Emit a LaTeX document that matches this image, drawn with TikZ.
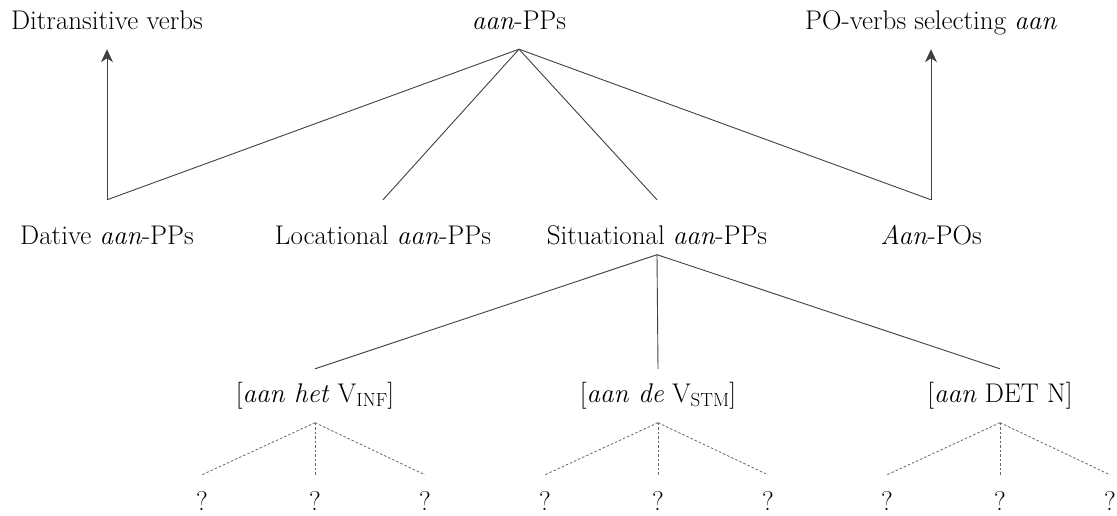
\documentclass[tikz,border=0pt]{standalone}
\usepackage{fontspec}
\usetikzlibrary{arrows.meta}

\newcommand{\subcap}[1]{\raisebox{-4.5pt}{\fontsize{19}{20}\selectfont #1}}

\begin{document}
\begin{tikzpicture}[
    x=1pt, y=-1pt,
    every node/.style={anchor=base, inner xsep=0pt, text height=18pt, text depth=5.5pt, font=\fontsize{27}{32}\selectfont},
    head/.style={inner ysep=13.5pt},
    cat/.style={inner ysep=26pt},
    cxn/.style={inner ysep=15pt},
    qm/.style={inner ysep=17pt},
    branch/.style={draw=black!75, line width=0.9pt},
    guess/.style={draw=black!60, line width=0.8pt, dash pattern=on 2.5pt off 2pt},
    >={Stealth[length=13pt, width=12pt, inset=4pt]}
]
\useasboundingbox (0,0) rectangle (1117,516);

% bovenste rij
\node[head] (ditr) at (107,30) {Ditransitive verbs};
\node[head] (root) at (519,30) {\textit{aan}-PPs};
\node[head] (pov) at (931,30) {PO-verbs selecting \textit{aan}};

% soorten aan-PPs
\node[cat] (dat) at (107,244) {Dative \textit{aan}-PPs};
\node[cat] (loc) at (383,244) {Locational \textit{aan}-PPs};
\node[cat] (sit) at (657,244) {Situational \textit{aan}-PPs};
\node[cat] (apo) at (931,244) {\textit{Aan}-POs};

% constructies
\node[cxn] (het) at (315,402) {[\textit{aan het} V\subcap{INF}]};
\node[cxn] (de) at (658,402) {[\textit{aan de} V\subcap{STM}]};
\node[cxn] (det) at (1000,402) {[\textit{aan} DET N]};

% vraagtekens
\foreach \c/\x in {het/315, de/658, det/1000} {
    \node[qm] (\c-l) at (\x-113,510) {?};
    \node[qm] (\c-m) at (\x,510) {?};
    \node[qm] (\c-r) at (\x+110,510) {?};
}

% takken
\foreach \k in {dat, loc, sit, apo} {\draw[branch] (root.south) -- (\k.north);}
\foreach \k in {het, de, det} {\draw[branch] ([yshift=21pt]sit.south) -- (\k.north);}
\foreach \c in {het, de, det} \foreach \p in {l, m, r} {\draw[guess] (\c.south) -- (\c-\p.north);}

% pijlen
\draw[branch, ->] (dat.north) -- (ditr.south);
\draw[branch, ->] (apo.north) -- (pov.south);

\end{tikzpicture}
\end{document}
